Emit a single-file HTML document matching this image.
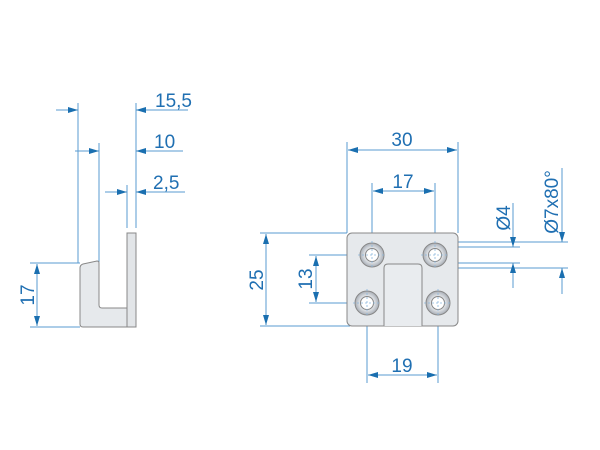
<!DOCTYPE html>
<html><head><meta charset="utf-8"><style>
html,body{margin:0;padding:0;background:#fff;width:600px;height:450px;overflow:hidden}
svg{display:block}
text{font-family:"Liberation Sans Narrow","Liberation Sans",sans-serif;fill:#1f6fb2;font-size:19px}
</style></head><body>
<svg width="600" height="450" viewBox="0 0 600 450" xmlns="http://www.w3.org/2000/svg">
<defs>
<marker id="a" viewBox="0 0 10 6" refX="10" refY="3" markerWidth="10" markerHeight="6" orient="auto-start-reverse" markerUnits="userSpaceOnUse"><path d="M0,0 L10,3 L0,6z" fill="#1a6fb0"/></marker>
<radialGradient id="h" cx="0.5" cy="0.5" r="0.5"><stop offset="0.45" stop-color="#f4f6f8"/><stop offset="1" stop-color="#a8aeb6"/></radialGradient>
</defs>
<g stroke="#5a9bd0" stroke-width="1" fill="none">
<line x1="78" y1="103" x2="78" y2="263"/>
<line x1="136" y1="103" x2="136" y2="228"/>
<line x1="99" y1="143" x2="99" y2="262"/>
<line x1="127" y1="185" x2="127" y2="228"/>
<line x1="30" y1="263" x2="80" y2="263"/>
<line x1="30" y1="327" x2="80" y2="327"/>
<line x1="56" y1="110" x2="78" y2="110" marker-end="url(#a)"/>
<line x1="136" y1="110" x2="188" y2="110" marker-start="url(#a)"/>
<line x1="75" y1="151" x2="99" y2="151" marker-end="url(#a)"/>
<line x1="136" y1="151" x2="183" y2="151" marker-start="url(#a)"/>
<line x1="105" y1="192" x2="127" y2="192" marker-end="url(#a)"/>
<line x1="136" y1="192" x2="185" y2="192" marker-start="url(#a)"/>
<line x1="37" y1="264" x2="37" y2="326" marker-start="url(#a)" marker-end="url(#a)"/>
<line x1="347" y1="142" x2="347" y2="233"/>
<line x1="458" y1="142" x2="458" y2="233"/>
<line x1="372" y1="183" x2="372" y2="270"/>
<line x1="435" y1="183" x2="435" y2="270"/>
<line x1="367" y1="290" x2="367" y2="383"/>
<line x1="438" y1="290" x2="438" y2="383"/>
<line x1="260" y1="233" x2="347" y2="233"/>
<line x1="260" y1="326" x2="350" y2="326"/>
<line x1="309" y1="255" x2="388" y2="255"/>
<line x1="309" y1="303" x2="383" y2="303"/>
<line x1="420" y1="303" x2="453" y2="303"/>
<line x1="435" y1="247" x2="520" y2="247"/>
<line x1="435" y1="263" x2="520" y2="263"/>
<line x1="430" y1="242" x2="568" y2="242"/>
<line x1="430" y1="268" x2="568" y2="268"/>
<line x1="348" y1="150" x2="457" y2="150" marker-start="url(#a)" marker-end="url(#a)"/>
<line x1="373" y1="191" x2="434" y2="191" marker-start="url(#a)" marker-end="url(#a)"/>
<line x1="368" y1="375" x2="437" y2="375" marker-start="url(#a)" marker-end="url(#a)"/>
<line x1="266" y1="234" x2="266" y2="325" marker-start="url(#a)" marker-end="url(#a)"/>
<line x1="316" y1="256" x2="316" y2="302" marker-start="url(#a)" marker-end="url(#a)"/>
<line x1="513" y1="203" x2="513" y2="247" marker-end="url(#a)"/>
<line x1="513" y1="263" x2="513" y2="288" marker-start="url(#a)"/>
<line x1="562" y1="168" x2="562" y2="242" marker-end="url(#a)"/>
<line x1="562" y1="268" x2="562" y2="294" marker-start="url(#a)"/>
</g>
<path d="M80,268 Q80,265 83,264 L97,261 Q99,261 99,263 L99,305 Q99,308 102,308 L127,308 L127,327 L83,327 Q80,327 80,324 Z" fill="#e6e9ec" stroke="#888" stroke-width="1"/>
<rect x="127" y="233" width="9" height="94" fill="#e2e5e8" stroke="#888" stroke-width="1"/>
<rect x="347" y="233" width="111" height="93" rx="5" fill="#e6e9ec" stroke="#888" stroke-width="1"/>
<path d="M384,326 L384,268 Q384,264 388,264 L418,264 Q422,264 422,268 L422,326" fill="#e9ecef" stroke="#888" stroke-width="1"/>
<g stroke="#888" stroke-width="1">
<circle cx="372" cy="255" r="12" fill="url(#h)"/><circle cx="372" cy="255" r="6.5" fill="#fff"/>
<circle cx="435" cy="255" r="12" fill="url(#h)"/><circle cx="435" cy="255" r="6.5" fill="#fff"/>
<circle cx="367" cy="303" r="12" fill="url(#h)"/><circle cx="367" cy="303" r="6.5" fill="#fff"/>
<circle cx="438" cy="303" r="12" fill="url(#h)"/><circle cx="438" cy="303" r="6.5" fill="#fff"/>
</g>
<g stroke="#8ab6dc" stroke-width="0.8" stroke-dasharray="2,2">
<line x1="358" y1="255" x2="386" y2="255"/><line x1="372" y1="241" x2="372" y2="269"/>
<line x1="421" y1="255" x2="449" y2="255"/><line x1="435" y1="241" x2="435" y2="269"/>
<line x1="353" y1="303" x2="381" y2="303"/><line x1="367" y1="289" x2="367" y2="317"/>
<line x1="424" y1="303" x2="452" y2="303"/><line x1="438" y1="289" x2="438" y2="317"/>
</g>
<text x="155" y="107">15,5</text>
<text x="154" y="148">10</text>
<text x="153" y="189">2,5</text>
<text transform="translate(34,295) rotate(-90)" text-anchor="middle">17</text>
<text x="402" y="146" text-anchor="middle">30</text>
<text x="403" y="188" text-anchor="middle">17</text>
<text x="402" y="372" text-anchor="middle">19</text>
<text transform="translate(263,280) rotate(-90)" text-anchor="middle">25</text>
<text transform="translate(312,279) rotate(-90)" text-anchor="middle">13</text>
<text transform="translate(510,218) rotate(-90)" text-anchor="middle">Ø4</text>
<text transform="translate(558,202) rotate(-90)" text-anchor="middle">Ø7x80°</text>
</svg>
</body></html>
